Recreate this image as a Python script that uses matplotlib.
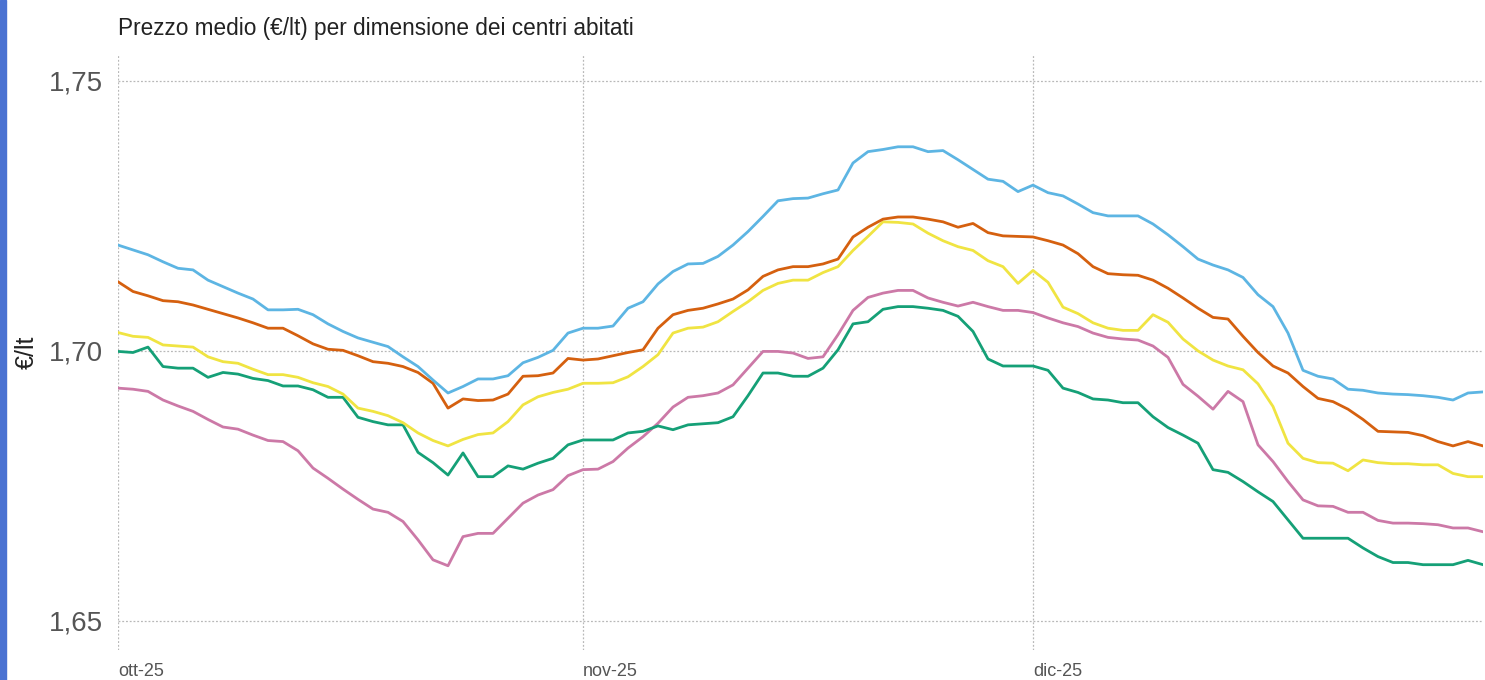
import matplotlib
matplotlib.use("Agg")
import matplotlib.pyplot as plt
import matplotlib.patches as mpatches
import pandas as pd
import numpy as np

plt.rcParams['font.family'] = ['Liberation Sans', 'DejaVu Sans']

title = "Prezzo medio (€/lt) per dimensione dei centri abitati"
y_label = "€/lt"
dates = pd.date_range("2025-10-01", "2025-12-31", freq="D")
x_tick_dates = pd.to_datetime(["2025-10-01", "2025-11-01", "2025-12-01"])
x_tick_labels = ["ott-25", "nov-25", "dic-25"]
y_ticks = [1.65, 1.70, 1.75]
y_tick_labels = ["1,65", "1,70", "1,75"]

series_blue = [
    1.7196, 1.7187, 1.7178, 1.7165, 1.7153, 1.7150, 1.7131, 1.7119, 1.7107, 1.7096,
    1.7076, 1.7076, 1.7077, 1.7067, 1.7050, 1.7036, 1.7024, 1.7016, 1.7008, 1.6989,
    1.6971, 1.6946, 1.6922, 1.6934, 1.6948, 1.6948, 1.6954, 1.6978, 1.6988, 1.7001,
    1.7033, 1.7042, 1.7042, 1.7046, 1.7079, 1.7091, 1.7124, 1.7147, 1.7161, 1.7162,
    1.7175, 1.7196, 1.7221, 1.7249, 1.7278, 1.7282, 1.7283, 1.7291, 1.7298, 1.7348,
    1.7369, 1.7373, 1.7378, 1.7378, 1.7369, 1.7371, 1.7354, 1.7336, 1.7318, 1.7314,
    1.7295, 1.7307, 1.7293, 1.7287, 1.7272, 1.7256, 1.7250, 1.7250, 1.7250, 1.7235,
    1.7215, 1.7193, 1.7170, 1.7159, 1.7150, 1.7136, 1.7104, 1.7082, 1.7033, 1.6964,
    1.6953, 1.6948, 1.6929, 1.6927, 1.6922, 1.6920, 1.6919, 1.6917, 1.6914, 1.6909,
    1.6922, 1.6924]

series_orange = [
    1.7128, 1.7110, 1.7102, 1.7093, 1.7091, 1.7085, 1.7077, 1.7069, 1.7061, 1.7052,
    1.7042, 1.7042, 1.7028, 1.7013, 1.7003, 1.7001, 1.6991, 1.6980, 1.6977, 1.6971,
    1.6960, 1.6940, 1.6894, 1.6911, 1.6908, 1.6909, 1.6920, 1.6953, 1.6954, 1.6959,
    1.6986, 1.6983, 1.6985, 1.6991, 1.6997, 1.7002, 1.7042, 1.7067, 1.7075, 1.7079,
    1.7087, 1.7096, 1.7113, 1.7138, 1.7150, 1.7156, 1.7156, 1.7161, 1.7170, 1.7211,
    1.7229, 1.7244, 1.7248, 1.7248, 1.7244, 1.7239, 1.7229, 1.7236, 1.7219, 1.7213,
    1.7212, 1.7211, 1.7204, 1.7196, 1.7180, 1.7156, 1.7143, 1.7141, 1.7140, 1.7131,
    1.7116, 1.7098, 1.7079, 1.7062, 1.7059, 1.7027, 1.6997, 1.6972, 1.6959, 1.6934,
    1.6912, 1.6906, 1.6892, 1.6873, 1.6851, 1.6850, 1.6849, 1.6843, 1.6832, 1.6824,
    1.6832, 1.6824]

series_yellow = [
    1.7034, 1.7027, 1.7025, 1.7011, 1.7009, 1.7007, 1.6989, 1.6980, 1.6977, 1.6966,
    1.6956, 1.6956, 1.6951, 1.6941, 1.6934, 1.6920, 1.6894, 1.6888, 1.6880, 1.6867,
    1.6848, 1.6834, 1.6824, 1.6836, 1.6845, 1.6848, 1.6869, 1.6900, 1.6915, 1.6923,
    1.6929, 1.6940, 1.6940, 1.6941, 1.6952, 1.6971, 1.6993, 1.7033, 1.7042, 1.7044,
    1.7054, 1.7073, 1.7091, 1.7112, 1.7125, 1.7131, 1.7131, 1.7145, 1.7156, 1.7186,
    1.7212, 1.7239, 1.7238, 1.7235, 1.7218, 1.7204, 1.7193, 1.7186, 1.7167, 1.7156,
    1.7125, 1.7149, 1.7127, 1.7081, 1.7069, 1.7052, 1.7042, 1.7038, 1.7038, 1.7067,
    1.7053, 1.7022, 1.7000, 1.6983, 1.6972, 1.6965, 1.6939, 1.6897, 1.6829, 1.6801,
    1.6793, 1.6792, 1.6778, 1.6798, 1.6793, 1.6791, 1.6791, 1.6789, 1.6789, 1.6773,
    1.6767, 1.6767]

series_green = [
    1.6999, 1.6997, 1.7007, 1.6971, 1.6968, 1.6968, 1.6951, 1.6960, 1.6957, 1.6949,
    1.6945, 1.6935, 1.6935, 1.6928, 1.6914, 1.6914, 1.6877, 1.6869, 1.6863, 1.6863,
    1.6812, 1.6793, 1.6770, 1.6811, 1.6767, 1.6767, 1.6787, 1.6781, 1.6792, 1.6801,
    1.6826, 1.6835, 1.6835, 1.6835, 1.6848, 1.6851, 1.6861, 1.6854, 1.6863, 1.6865,
    1.6867, 1.6878, 1.6917, 1.6959, 1.6959, 1.6953, 1.6953, 1.6968, 1.7002, 1.7050,
    1.7054, 1.7077, 1.7082, 1.7082, 1.7079, 1.7075, 1.7064, 1.7036, 1.6985, 1.6972,
    1.6972, 1.6972, 1.6964, 1.6931, 1.6923, 1.6911, 1.6909, 1.6904, 1.6904, 1.6878,
    1.6858, 1.6844, 1.6829, 1.6780, 1.6775, 1.6758, 1.6739, 1.6721, 1.6687, 1.6653,
    1.6653, 1.6653, 1.6653, 1.6635, 1.6619, 1.6608, 1.6608, 1.6604, 1.6604, 1.6604,
    1.6612, 1.6604]

series_pink = [
    1.6931, 1.6929, 1.6925, 1.6909, 1.6898, 1.6888, 1.6873, 1.6859, 1.6855, 1.6844,
    1.6834, 1.6832, 1.6815, 1.6783, 1.6764, 1.6744, 1.6725, 1.6707, 1.6701, 1.6684,
    1.6650, 1.6613, 1.6602, 1.6656, 1.6662, 1.6662, 1.6690, 1.6718, 1.6733, 1.6743,
    1.6769, 1.6780, 1.6781, 1.6795, 1.6820, 1.6841, 1.6866, 1.6896, 1.6914, 1.6917,
    1.6922, 1.6937, 1.6968, 1.6999, 1.6999, 1.6996, 1.6986, 1.6989, 1.7030, 1.7075,
    1.7099, 1.7107, 1.7112, 1.7112, 1.7098, 1.7090, 1.7083, 1.7090, 1.7082, 1.7075,
    1.7075, 1.7071, 1.7061, 1.7052, 1.7045, 1.7033, 1.7025, 1.7022, 1.7020, 1.7009,
    1.6988, 1.6938, 1.6916, 1.6892, 1.6925, 1.6906, 1.6826, 1.6795, 1.6758, 1.6724,
    1.6713, 1.6712, 1.6701, 1.6701, 1.6686, 1.6681, 1.6681, 1.6680, 1.6678, 1.6672,
    1.6672, 1.6665]

W, H = 1485, 680
fig = plt.figure(figsize=(W / 100, H / 100), dpi=100)
fig.patch.set_facecolor("white")

# left accent strip
fig.patches.append(mpatches.Rectangle((0, 0), 6 / W, 1, transform=fig.transFigure,
                                      color="#4a72d2", zorder=0))

ax = fig.add_axes([118 / W, 30 / H, (1483 - 118) / W, (650 - 55) / H])

lw = 2.0
ax.plot(dates, series_pink, color="#CC79A7", lw=lw, zorder=3)
ax.plot(dates, series_green, color="#15A077", lw=lw, zorder=3)
ax.plot(dates, series_yellow, color="#F0E442", lw=lw, zorder=3)
ax.plot(dates, series_orange, color="#D5600F", lw=lw, zorder=3)
ax.plot(dates, series_blue, color="#5DB5E3", lw=lw, zorder=3)

ax.set_xlim(dates[0], dates[-1])
ax.set_ylim(1.6446, 1.7548)

ax.set_yticks(y_ticks)
ax.set_yticklabels(y_tick_labels, fontsize=20, color="#555555")
ax.set_xticks(x_tick_dates)
ax.set_xticklabels(x_tick_labels, fontsize=13, color="#555555", ha="left")

ax.tick_params(axis="y", length=0, pad=11)
ax.tick_params(axis="x", length=0, pad=9)

for s in ax.spines.values():
    s.set_visible(False)

ax.grid(True, which="major", axis="both", color="#b8b8b8", linestyle=(0, (1.5, 1.5)), linewidth=0.9)
ax.set_axisbelow(True)

fig.text(118 / W, 1 - 28 / H, title, fontsize=16.3, color="#222222", ha="left", va="center")
fig.text(27 / W, 1 - 352 / H, y_label, fontsize=18, color="#222222", rotation=90,
         ha="center", va="center")

fig.savefig("out.png", dpi=100, facecolor="white")
